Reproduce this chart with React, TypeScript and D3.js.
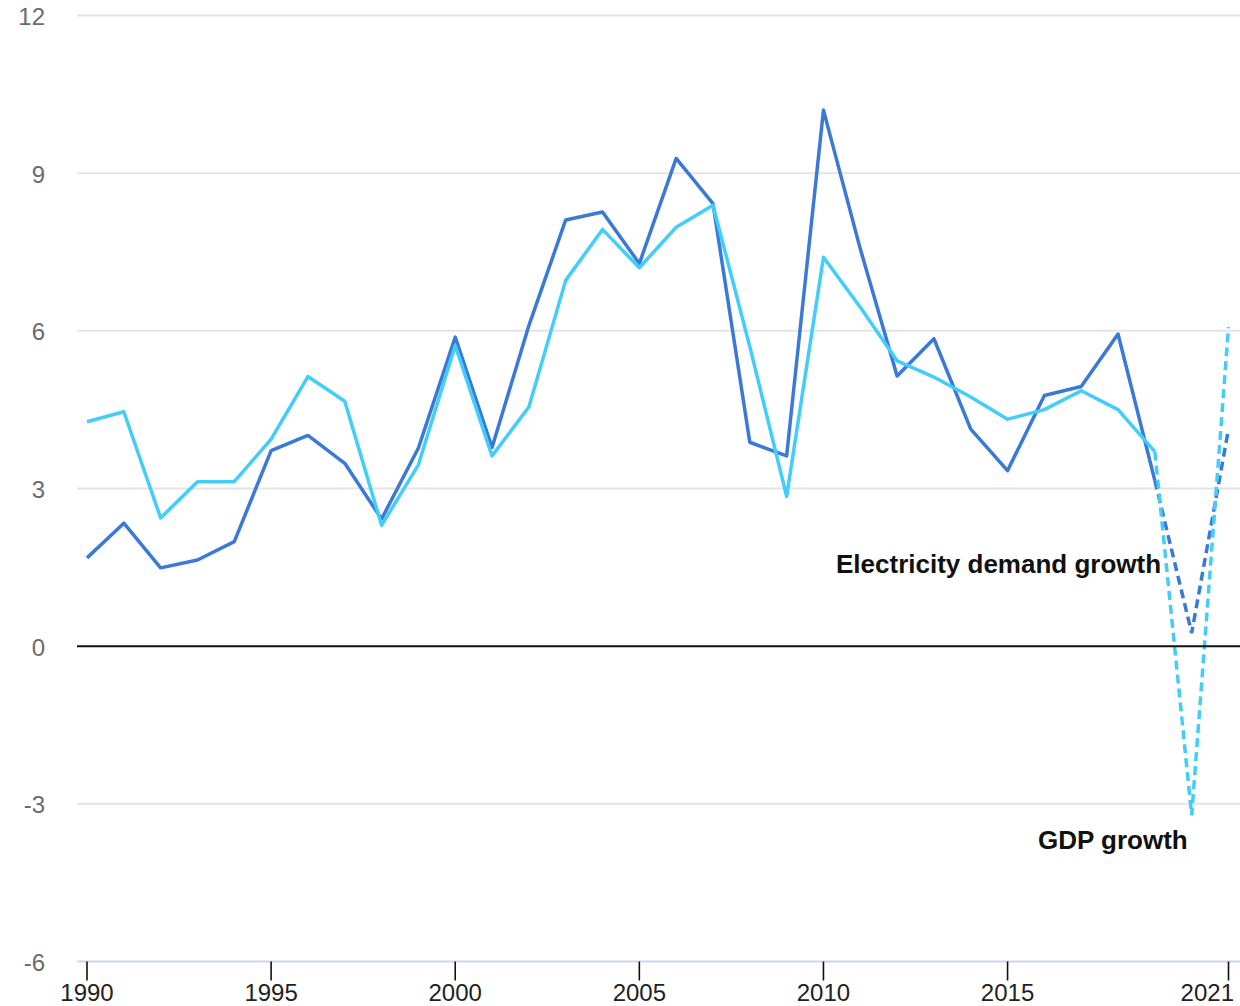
import { useEffect, useRef } from "react";
import * as d3 from "d3";

// --- data (annual growth, %)
const years = [
  1990, 1991, 1992, 1993, 1994, 1995, 1996, 1997, 1998, 1999, 2000, 2001, 2002, 2003, 2004, 2005,
  2006, 2007, 2008, 2009, 2010, 2011, 2012, 2013, 2014, 2015, 2016, 2017, 2018, 2019, 2020, 2021,
];
const electricityGrowth = [
  1.68, 2.34, 1.49, 1.64, 1.99, 3.72, 4.01, 3.48, 2.42, 3.77, 5.88, 3.78, 6.1, 8.11, 8.26, 7.28,
  9.28, 8.42, 3.88, 3.62, 10.2, 7.56, 5.14, 5.85, 4.13, 3.34, 4.77, 4.94, 5.94, 3.15, 0.25, 4.13,
];
const gdpGrowth = [
  4.27, 4.46, 2.44, 3.13, 3.13, 3.94, 5.13, 4.66, 2.3, 3.45, 5.72, 3.62, 4.55, 6.96, 7.93, 7.2,
  7.97, 8.39, 5.7, 2.85, 7.4, 6.45, 5.43, 5.12, 4.74, 4.32, 4.5, 4.86, 4.5, 3.7, -3.22, 6.07,
];
const yTicks = [-6, -3, 0, 3, 6, 9, 12];
const xTicks = [1990, 1995, 2000, 2005, 2010, 2015, 2021];
const lastActualYear = 2019;

const series = [
  { name: "Electricity demand growth", values: electricityGrowth, color: "#3b79d8" },
  { name: "GDP growth", values: gdpGrowth, color: "#42cdfb" },
];

const FONT = "'Liberation Sans', Arial, sans-serif";

export default function App() {
  const ref = useRef<SVGSVGElement>(null);

  useEffect(() => {
    const width = 1240;
    const height = 1006;
    const svg = d3.select(ref.current).attr("width", width).attr("height", height);
    svg.selectAll("*").remove();

    const x = d3.scaleLinear().domain([1990, 2021]).range([87, 1228.5]);
    const y = d3.scaleLinear().domain([-6, 12]).range([961.5, 15.5]);
    const left = 77;

    // gridlines
    svg
      .append("g")
      .selectAll("line")
      .data(yTicks.filter((t) => t !== 0 && t !== -6))
      .join("line")
      .attr("x1", left)
      .attr("x2", width)
      .attr("y1", (d) => y(d))
      .attr("y2", (d) => y(d))
      .attr("stroke", "#e4e4e4")
      .attr("stroke-width", 2);

    // bottom axis line
    svg
      .append("line")
      .attr("x1", left)
      .attr("x2", width)
      .attr("y1", y(-6))
      .attr("y2", y(-6))
      .attr("stroke", "#cad6ef")
      .attr("stroke-width", 2);

    // y labels
    svg
      .append("g")
      .selectAll("text")
      .data(yTicks)
      .join("text")
      .attr("x", 45)
      .attr("y", (d) => y(d) + 3)
      .attr("text-anchor", "end")
      .attr("dominant-baseline", "middle")
      .style("font", `24px ${FONT}`)
      .attr("fill", "#6b6b6b")
      .text((d) => d);

    // x ticks
    svg
      .append("g")
      .selectAll("line")
      .data(xTicks)
      .join("line")
      .attr("x1", (d) => x(d))
      .attr("x2", (d) => x(d))
      .attr("y1", y(-6))
      .attr("y2", y(-6) + 19)
      .attr("stroke", "#111")
      .attr("stroke-width", 1.6);

    svg
      .append("g")
      .selectAll("text")
      .data(xTicks)
      .join("text")
      .attr("x", (d) => (d === 2021 ? Math.min(x(d) + 25, width - 6) : x(d)))
      .attr("y", 1001)
      .attr("text-anchor", (d) => (d === 2021 ? "end" : "middle"))
      .style("font", `24px ${FONT}`)
      .attr("fill", "#222")
      .text((d) => d);

    // lines
    const line = d3
      .line<[number, number]>()
      .x((d) => x(d[0]))
      .y((d) => y(d[1]));

    series.forEach((s) => {
      const pts: [number, number][] = years.map((yr, i) => [yr, s.values[i]]);
      const solid = pts.filter((p) => p[0] <= lastActualYear);
      const dashed = pts.filter((p) => p[0] >= lastActualYear);
      svg
        .append("path")
        .attr("d", line(solid))
        .attr("fill", "none")
        .attr("stroke", s.color)
        .attr("stroke-width", 3.5)
        .attr("stroke-linejoin", "round");
      svg
        .append("path")
        .attr("d", line(dashed))
        .attr("fill", "none")
        .attr("stroke", s.color)
        .attr("stroke-width", 3.5)
        .attr("stroke-dasharray", "9,5");
    });

    // zero line
    svg
      .append("line")
      .attr("x1", left)
      .attr("x2", width)
      .attr("y1", y(0))
      .attr("y2", y(0))
      .attr("stroke", "#111")
      .attr("stroke-width", 2);

    // series labels
    svg
      .append("text")
      .attr("x", 836)
      .attr("y", 573)
      .style("font", `bold 26px ${FONT}`)
      .attr("fill", "#111")
      .text(series[0].name);

    svg
      .append("text")
      .attr("x", 1038)
      .attr("y", 849)
      .style("font", `bold 26px ${FONT}`)
      .attr("fill", "#111")
      .text(series[1].name);
  }, []);

  return (
    <svg
      ref={ref}
      style={{ position: "absolute", left: 0, top: 0, background: "#fff" }}
    />
  );
}
